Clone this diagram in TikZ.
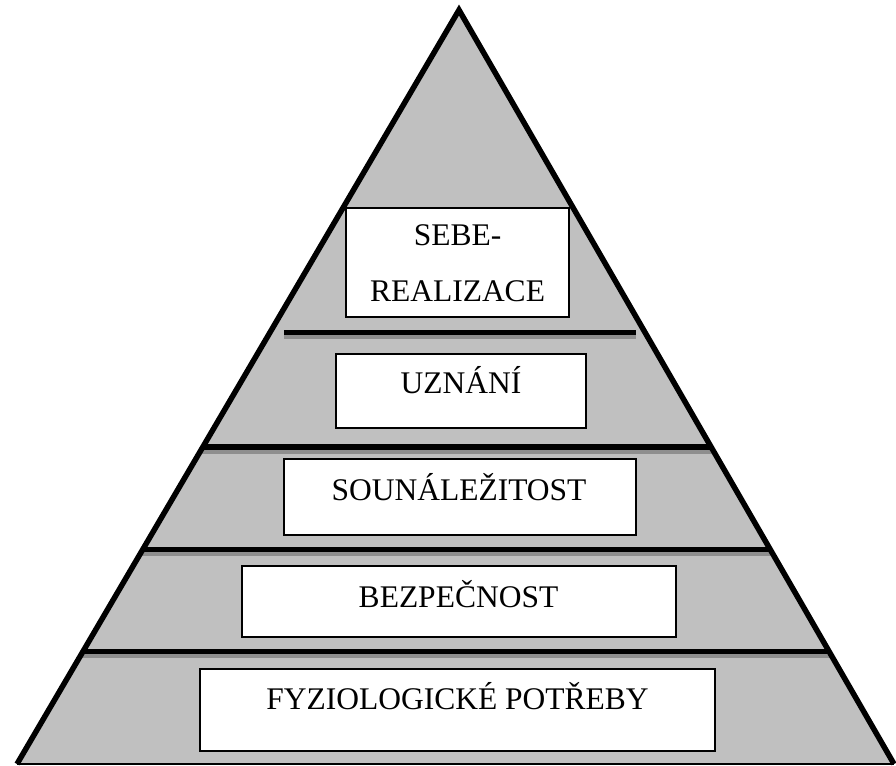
\documentclass[tikz,border=0pt]{standalone}
\usepackage{fontspec}
\setmainfont{Liberation Serif}
\definecolor{pyrgray}{HTML}{C0C0C0}
\definecolor{patgray}{HTML}{8E8E8E}
\begin{document}
\begin{tikzpicture}[x=1pt,y=-1pt,
  label/.style={anchor=base,inner sep=0pt,font=\fontsize{31.5}{38}\selectfont},
  levelbox/.style={draw=black,line width=1.1pt,fill=white},
  blackbar/.style={fill=black},
  patbar/.style={fill=patgray}]
\useasboundingbox (0,0) rectangle (896,765);
% triangle fill
\coordinate (apex) at (459,10);
\coordinate (bl) at (17,764);
\coordinate (br) at (894,764);
\fill[pyrgray] (apex) -- (bl) -- (br) -- cycle;
% dividers clipped to triangle
\begin{scope}
\clip (apex) -- (bl) -- (br) -- cycle;
\fill[blackbar] (0,444) rectangle (896,449.5);
\fill[patbar]   (0,449.5) rectangle (896,454);
\fill[blackbar] (0,547) rectangle (896,551.5);
\fill[patbar]   (0,551.5) rectangle (896,555.5);
\fill[blackbar] (0,649) rectangle (896,654);
\fill[patbar]   (0,654) rectangle (896,658);
\end{scope}
\fill[blackbar] (284,330) rectangle (636,335);
\fill[patbar]   (284,335) rectangle (636,339);
% triangle outline
\draw[line width=5.5pt,line join=miter,miter limit=20] (bl) -- (apex) -- (br);
\draw[line width=1.5pt] (bl) -- (br);
% boxes
\draw[levelbox] (346,208) rectangle (569,317);
\draw[levelbox] (336,354) rectangle (586,428);
\draw[levelbox] (284,459) rectangle (636,535);
\draw[levelbox] (242,566) rectangle (676,637);
\draw[levelbox] (200,669) rectangle (715,751);
% labels
\node[label] (sebe) at (457.5,245) {SEBE-};
\node[label] (real) at (457.5,301) {REALIZACE};
\node[label] (uzn) at (461,393) {UZNÁNÍ};
\node[label] (soun) at (459,500) {SOUNÁLEŽITOST};
\node[label] (bez) at (458.5,607) {BEZPEČNOST};
\node[label] (fyz) at (457.5,709) {FYZIOLOGICKÉ POTŘEBY};
\end{tikzpicture}
\end{document}
